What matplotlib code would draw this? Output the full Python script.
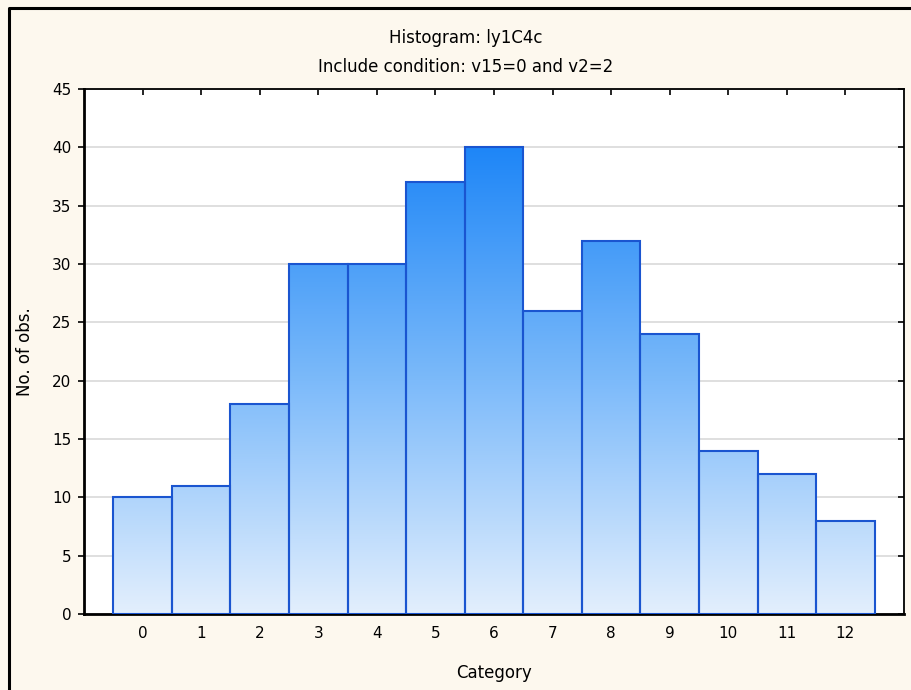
import matplotlib
matplotlib.use("Agg")
import matplotlib.pyplot as plt
import numpy as np
from matplotlib.colors import LinearSegmentedColormap
from matplotlib.lines import Line2D

categories = [0, 1, 2, 3, 4, 5, 6, 7, 8, 9, 10, 11, 12]
counts = [10, 11, 18, 30, 30, 37, 40, 26, 32, 24, 14, 12, 8]
yticks = [0, 5, 10, 15, 20, 25, 30, 35, 40, 45]

plt.rcParams['font.family'] = ['DejaVu Sans']

bg = '#fdf8ee'
fig = plt.figure(figsize=(9.12, 6.9), dpi=100, facecolor=bg)
ax = fig.add_axes([84/912, 1-614/690, 820/912, 525/690])
ax.set_facecolor('white')

# gradient fill, darker with higher count
cmap = LinearSegmentedColormap.from_list('grad', ['#e3effd', '#7cbafa', '#1e86f7'])
grad = np.linspace(0, 1, 256).reshape(-1, 1)

bars = ax.bar(categories, counts, width=1.0, facecolor='none',
              edgecolor='#1a55d0', linewidth=1.5, zorder=4)
for b in bars:
    im = ax.imshow(grad, cmap=cmap, origin='lower', aspect='auto',
                   extent=(-1, 13, 0, 40), vmin=0, vmax=1, zorder=2,
                   interpolation='bilinear')
    im.set_clip_path(b)

ax.set_xlim(-1, 13)
ax.set_ylim(0, 45)

ax.set_yticks(yticks)
ax.set_xticks(categories)
ax.grid(axis='y', color='#d9d9d9', linewidth=1.2, zorder=1)
ax.set_axisbelow(True)

ax.tick_params(axis='x', direction='in', length=4, width=1.2, top=True,
               labelsize=11, pad=9, colors='black')
ax.tick_params(axis='y', which='both', direction='out', length=4, width=1.2,
               labelsize=11, pad=5)
ax.tick_params(axis='y', right=True)
for t in ax.yaxis.get_ticklines()[1::2]:
    t.set_marker(matplotlib.lines.TICKLEFT)

for s in ax.spines.values():
    s.set_linewidth(1.3)
ax.spines['left'].set_linewidth(2)
ax.spines['bottom'].set_linewidth(2)

ax.set_xlabel('Category', fontsize=12, labelpad=16)
ax.set_ylabel('No. of obs.', fontsize=12, labelpad=13)

fig.text(466/912, 1-38/690, 'Histogram: ly1C4c', ha='center', va='center', fontsize=12)
fig.text(466/912, 1-67/690, 'Include condition: v15=0 and v2=2', ha='center', va='center', fontsize=12)

# window frame: only left and top edges visible
x0, y0 = 9/912, 1-8/690
fig.lines.append(Line2D([x0, x0, 1.0], [0.0, y0, y0], transform=fig.transFigure,
                        color='black', linewidth=2.2))

fig.savefig('out.png', dpi=100, facecolor=bg)
